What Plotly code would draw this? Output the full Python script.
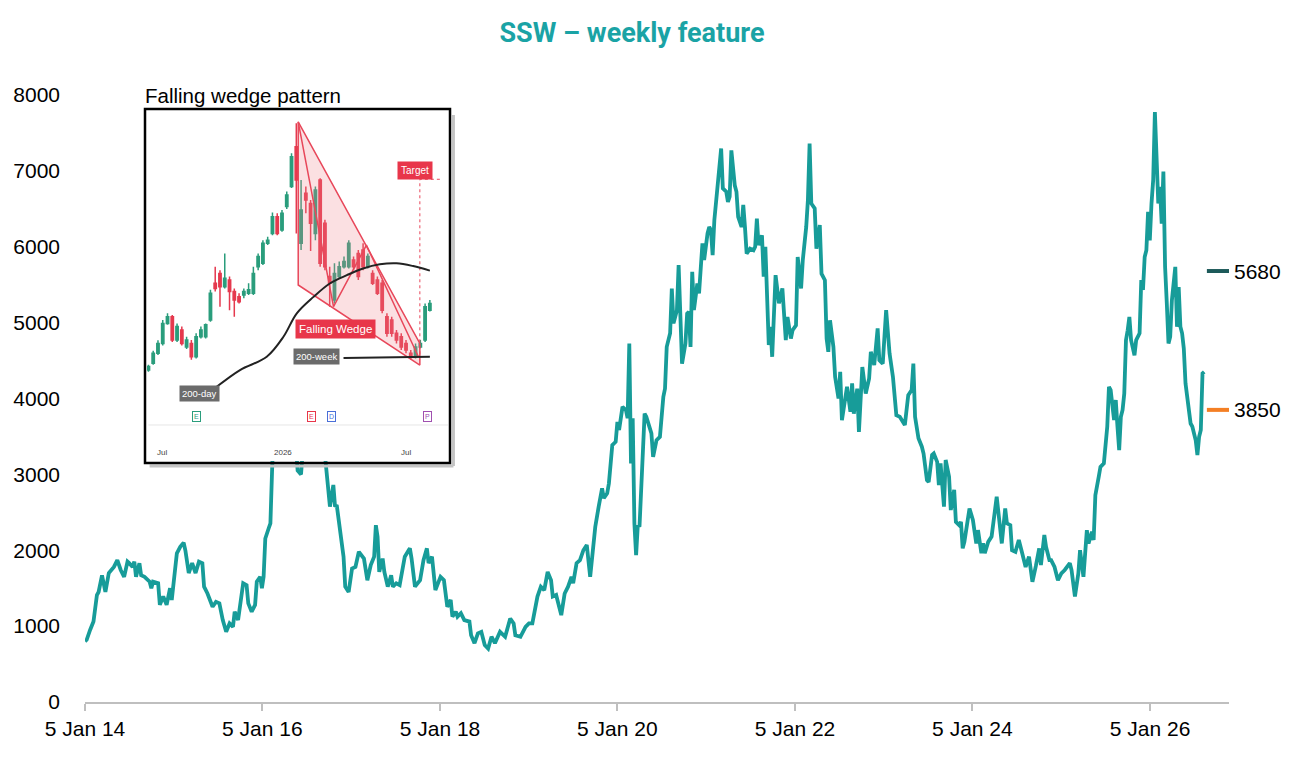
import pandas as pd
import plotly.graph_objects as go

# SSW weekly price: week offsets from 5 Jan 2014 and value
weeks = [0, 1, 3, 5, 7, 8, 10, 12, 14, 17, 19, 21, 23, 25, 26, 28, 29, 30, 32, 33,
         35, 38, 39, 40, 43, 44, 46, 48, 50, 51, 54, 56, 58, 59, 61, 63, 65, 67, 69, 70,
         72, 75, 77, 79, 81, 83, 85, 87, 88, 90, 93, 95, 96, 98, 100, 101, 103, 104, 105, 106,
         108, 109, 110, 112, 114, 116, 119, 121, 123, 125, 127, 129, 132, 135, 138, 140, 142, 144, 146, 147,
         148, 150, 152, 153, 155, 157, 159, 161, 164, 166, 168, 170, 171, 172, 173, 175, 176, 178, 180, 181,
         183, 185, 188, 191, 192, 194, 197, 199, 201, 202, 204, 206, 209, 211, 213, 215, 216, 218, 219, 221,
         223, 226, 227, 229, 231, 233, 235, 237, 239, 241, 244, 247, 250, 252, 253, 256, 259, 261, 263, 266,
         268, 270, 272, 274, 275, 277, 280, 282, 284, 286, 287, 289, 291, 293, 295, 297, 299, 300, 302, 304,
         305, 307, 308, 310, 312, 313, 314, 316, 318, 319, 320, 321, 322, 323, 324, 325, 326, 329, 330, 332,
         333, 334, 336, 338, 340, 341, 342, 344, 345, 346, 348, 349, 350, 351, 353, 354, 355, 356, 357, 358,
         360, 361, 363, 364, 366, 367, 368, 369, 370, 372, 373, 374, 375, 377, 378, 379, 380, 382, 383, 384,
         386, 387, 388, 389, 391, 393, 394, 395, 396, 398, 399, 400, 402, 403, 404, 406, 408, 410, 412, 413,
         415, 416, 418, 419, 421, 422, 424, 425, 426, 427, 429, 430, 432, 433, 435, 436, 437, 438, 440, 441,
         443, 444, 445, 447, 448, 450, 451, 452, 454, 455, 457, 459, 461, 462, 464, 466, 467, 469, 471, 473,
         475, 477, 479, 482, 484, 486, 487, 488, 490, 492, 493, 495, 496, 498, 499, 501, 502, 503, 505, 506,
         508, 509, 511, 512, 514, 515, 516, 517, 520, 522, 524, 525, 527, 528, 529, 531, 533, 536, 538, 539,
         541, 542, 544, 545, 547, 549, 551, 553, 555, 557, 559, 561, 562, 564, 565, 567, 568, 570, 572, 574,
         576, 579, 580, 582, 584, 585, 587, 589, 590, 592, 593, 594, 596, 597, 599, 601, 602, 603, 605, 606,
         607, 608, 609, 610, 611, 612, 613, 614, 615, 617, 618, 620, 621, 622, 623, 624, 625, 626, 627, 628,
         629, 630, 631, 632, 633, 634, 635, 636, 637, 638, 639, 641, 642, 643, 644, 645, 646, 647, 650, 651,
         653, 654, 655, 656, 657, 658]
ssw = [800, 820, 950, 1060, 1410, 1450, 1670, 1450, 1700, 1780, 1870, 1740, 1650, 1850, 1830, 1780, 1850, 1650, 1830, 1670,
       1650, 1585, 1500, 1585, 1565, 1280, 1390, 1280, 1500, 1345, 1960, 2045, 2100, 2000, 1700, 1830, 1700, 1850, 1830, 1520,
       1430, 1255, 1320, 1300, 1080, 925, 1035, 990, 1190, 1080, 1565, 1540, 1300, 1190, 1280, 1585, 1650, 1500, 1650, 2155,
       2290, 2355, 3060, 4300, 5400, 6300, 5600, 4600, 3700, 3050, 3000, 3600, 4400, 4900, 4200, 3500, 3050, 2575, 2860, 2575,
       2595, 2265, 1915, 1520, 1450, 1760, 1780, 1980, 1890, 1605, 1805, 1915, 2330, 2180, 1715, 1890, 1715, 1520, 1670, 1520,
       1565, 1540, 1915, 2025, 1890, 1520, 1605, 1870, 2025, 1830, 1915, 1475, 1650, 1605, 1255, 1345, 1125, 1190, 1125, 1170,
       1080, 1060, 880, 775, 905, 925, 750, 705, 860, 775, 925, 860, 1100, 1035, 880, 860, 990, 1035, 1035, 1390,
       1520, 1475, 1715, 1605, 1390, 1410, 1145, 1430, 1520, 1650, 1565, 1830, 1870, 2000, 2070, 1650, 2090, 2310, 2575, 2815,
       2685, 2750, 2880, 3385, 3430, 3690, 3585, 3890, 3850, 3740, 4725, 3145, 3740, 2355, 1935, 2330, 2310, 3800, 3760, 3585,
       3540, 3230, 3450, 3495, 4020, 4130, 4680, 4860, 5450, 4990, 5165, 5760, 5075, 4460, 4725, 5120, 5140, 4680, 5670, 5165,
       5515, 5385, 6045, 5825, 6175, 6260, 6220, 5890, 6350, 6835, 7050, 7295, 6770, 6725, 6590, 6660, 7270, 6810, 6725, 6395,
       6260, 6550, 6260, 5910, 5975, 5955, 6000, 6370, 6020, 6150, 5605, 6000, 4705, 4945, 4550, 5625, 5255, 5450, 4770, 5075,
       4790, 4900, 4965, 5865, 5450, 5825, 6260, 6615, 7360, 6570, 6505, 5975, 6285, 5645, 5560, 4790, 4615, 5030, 4680, 4285,
       4000, 4350, 3715, 4065, 4155, 3825, 4200, 3800, 4130, 3560, 4415, 4065, 4265, 4615, 4440, 4925, 4505, 4460, 5165, 4595,
       4285, 3780, 3760, 3650, 4045, 4110, 4460, 3760, 3475, 3365, 3275, 2925, 2900, 3255, 3275, 3165, 2860, 3145, 2575, 3190,
       2970, 2530, 2795, 2375, 2330, 2375, 2025, 2110, 2550, 2400, 2090, 2265, 1960, 2090, 1960, 2110, 2180, 2705, 2265, 2090,
       2550, 2355, 2330, 2000, 1980, 2135, 1960, 1780, 1915, 1585, 1790, 2025, 1805, 2200, 2045, 1870, 1870, 1780, 1605, 1695,
       1740, 1830, 1740, 1390, 1695, 2000, 1650, 2265, 2090, 2245, 2135, 2725, 2970, 3100, 3145, 3630, 4155, 4110, 3715, 3980,
       3630, 3320, 3760, 3850, 4065, 4770, 4900, 5075, 4770, 4570, 4770, 4860, 5560, 5430, 5865, 5955, 6460, 6085, 6570, 6880,
       7775, 7185, 6570, 6790, 6305, 6990, 5735, 5255, 4725, 4815, 5295, 5735, 4945, 5470, 4945, 4860, 4660, 4200, 3670, 3630,
       3450, 3255, 3495, 3585, 4330, 4350]

level_values = [5680, 3850]
level_labels = ['5680', '3850']
level_colors = ['#1d5a5a', '#f47f24']

# Inset: falling wedge candlestick sketch
c_open = [26.0, 27.9, 30.8, 33.6, 39.3, 41.2, 34.6, 37.4, 32.6, 33.6, 29.8, 35.5, 35.5, 40.3, 50.8, 53.6, 49.8, 51.7, 48.4, 46.9,
          47.4, 47.9, 47.9, 55.5, 56.5, 62.2, 65.0, 69.8, 66.0, 72.7, 78.4, 89.8, 62.2, 76.5, 73.6, 65.0, 80.3, 67.9, 52.7, 46.0,
          52.7, 55.5, 55.5, 57.4, 59.3, 60.3, 55.5, 53.6, 51.7, 50.8, 41.2, 40.3, 36.5, 35.5, 33.6, 30.8, 29.8, 32.6, 34.6, 43.1]
c_close = [27.0, 30.8, 33.6, 39.3, 41.2, 34.6, 38.4, 33.6, 34.6, 29.8, 35.5, 37.4, 38.9, 47.9, 49.3, 49.8, 52.2, 48.4, 46.0, 45.5,
           48.4, 48.9, 53.6, 58.4, 62.2, 63.1, 69.8, 65.0, 70.8, 76.0, 86.9, 80.3, 71.7, 74.6, 67.9, 77.4, 56.5, 55.5, 50.8, 53.6,
           55.5, 57.0, 62.2, 55.5, 52.7, 55.5, 58.4, 50.8, 47.9, 43.1, 36.5, 36.5, 34.6, 32.6, 31.7, 29.8, 32.6, 33.6, 44.1, 45.0]
c_high = [27.5, 31.5, 34.5, 40.3, 42.2, 41.7, 39.3, 38.4, 35.5, 34.6, 36.5, 38.4, 39.3, 48.9, 55.5, 54.5, 59.3, 52.7, 49.3, 47.9,
          49.3, 50.8, 55.5, 59.3, 63.1, 64.1, 71.0, 70.8, 71.7, 77.0, 87.9, 96.5, 80.3, 78.4, 74.6, 78.4, 80.8, 68.9, 55.5, 56.5,
          57.0, 58.4, 63.1, 58.4, 60.3, 62.2, 59.3, 54.5, 52.7, 51.7, 42.2, 41.2, 37.4, 36.5, 34.6, 31.7, 33.6, 34.6, 45.0, 46.0]
c_low = [25.5, 27.5, 30.3, 33.0, 38.9, 34.0, 34.0, 33.0, 32.0, 28.9, 29.3, 35.0, 35.0, 39.8, 48.4, 44.1, 49.3, 43.1, 41.2, 45.0,
         46.5, 47.4, 47.4, 54.5, 56.0, 61.7, 64.5, 64.5, 65.5, 72.0, 78.0, 65.0, 60.3, 70.8, 60.0, 63.1, 55.5, 54.5, 44.1, 45.0,
         52.2, 55.0, 55.0, 54.5, 51.7, 54.5, 55.0, 50.3, 47.4, 42.2, 35.5, 35.5, 33.6, 31.7, 30.8, 28.9, 29.3, 32.2, 34.0, 42.7]
ma_day_x = [14.3, 19.2, 24.8, 28.3, 31.1, 34.6, 38.1, 41.6, 45.0, 48.5, 52.0, 55.5, 59.0]
ma_day_y = [21.2, 26.0, 29.8, 35.5, 42.2, 46.9, 50.8, 53.1, 55.0, 56.2, 56.5, 55.7, 54.4]
ma_week_x = [40.9, 59.0]
ma_week_y = [29.4, 29.8]
wedge_x = [31.4, 56.9, 56.9, 31.4, 31.4]
wedge_y = [96.9, 33.6, 27.4, 50.3, 96.9]
zigzag_x = [31.4, 38.8, 45.7, 56.6]
zigzag_y = [96.9, 44.1, 61.7, 29.8]
target_x = [56.9, 56.9, 61.5]
target_y = [30.5, 80.5, 80.5]

start = pd.Timestamp('2014-01-05')
dates = [start + pd.Timedelta(days=7 * w) for w in weeks]
x_end = '2026-11-26'

fig = go.Figure()

fig.add_trace(go.Scatter(x=dates, y=ssw, mode='lines',
                         line=dict(color='#179c99', width=3.8)))

for val, col in zip(level_values, level_colors):
    fig.add_trace(go.Scatter(x=['2026-08-27', x_end], y=[val, val], mode='lines',
                             line=dict(color=col, width=4), cliponaxis=False))

# Inset chart
fig.add_trace(go.Scatter(x=wedge_x, y=wedge_y, xaxis='x2', yaxis='y2', mode='lines',
                         fill='toself', fillcolor='rgba(240,130,140,0.25)',
                         line=dict(color='#e8475a', width=1.5)))
fig.add_trace(go.Scatter(x=zigzag_x, y=zigzag_y, xaxis='x2', yaxis='y2', mode='lines',
                         line=dict(color='#e8475a', width=1.5)))
fig.add_trace(go.Scatter(x=target_x, y=target_y, xaxis='x2', yaxis='y2', mode='lines',
                         line=dict(color='#e8475a', width=1, dash='dot')))
fig.add_trace(go.Candlestick(x=list(range(len(c_open))), open=c_open, high=c_high,
                             low=c_low, close=c_close, xaxis='x2', yaxis='y2',
                             increasing=dict(line=dict(color='#2a9d7c', width=1.5), fillcolor='#2a9d7c'),
                             decreasing=dict(line=dict(color='#e5394e', width=1.5), fillcolor='#e5394e'),
                             whiskerwidth=0))
fig.add_trace(go.Scatter(x=ma_day_x, y=ma_day_y, xaxis='x2', yaxis='y2', mode='lines',
                         line=dict(color='#222222', width=2, shape='spline')))
fig.add_trace(go.Scatter(x=ma_week_x, y=ma_week_y, xaxis='x2', yaxis='y2', mode='lines',
                         line=dict(color='#222222', width=2)))
fig.add_trace(go.Scatter(x=[0, 62.8], y=[10.3, 10.3], xaxis='x2', yaxis='y2', mode='lines',
                         line=dict(color='#e6e6e6', width=1)))

tick_font = dict(family='Liberation Sans, Arial, sans-serif', size=21, color='#000000')

annotations = [
    dict(text='Falling wedge pattern', xref='paper', yref='paper', x=0.0507, y=1.0,
         xanchor='left', yanchor='middle', showarrow=False,
         font=dict(tick_font, size=20.5)),
]
for val, lab in zip(level_values, level_labels):
    annotations.append(dict(text=lab, xref='paper', yref='y', x=1.0, y=val, xshift=3,
                            xanchor='left', yanchor='middle', showarrow=False, font=tick_font))

small = dict(family='Liberation Sans, Arial, sans-serif', size=9, color='white')
inset_labels = [('Falling Wedge', 39.3, 37.6, '#e8364a', 11.5, 3),
                ('Target', 55.9, 83.1, '#e8364a', 10, 3),
                ('200-day', 10.7, 19.3, '#6b6b6b', 9.5, 2),
                ('200-week', 35.3, 29.8, '#6b6b6b', 9.5, 2)]
for txt, xx, yy, bg, sz, pad in inset_labels:
    annotations.append(dict(text=txt, xref='x2', yref='y2', x=xx, y=yy, showarrow=False,
                            bgcolor=bg, borderpad=pad, font=dict(small, size=sz)))
for txt, xx in [('Jul', 2.8), ('2026', 28.3), ('Jul', 54.1)]:
    annotations.append(dict(text=txt, xref='x2', yref='y2', x=xx, y=2.4, showarrow=False,
                            font=dict(family='Liberation Sans, Arial', size=8, color='#444444')))
for txt, xx, col in [('E', 10.0, '#2a9d7c'), ('E', 34.2, '#e8364a'), ('D', 38.4, '#4a6fd8'),
                     ('P', 58.6, '#a050b0')]:
    annotations.append(dict(text=txt, xref='x2', yref='y2', x=xx, y=12.7, showarrow=False,
                            bordercolor=col, borderwidth=1, borderpad=1,
                            font=dict(family='Liberation Sans, Arial', size=7, color=col)))

x0, x1, y0, y1 = 0.05245, 0.31906, 0.39374, 0.97694
shapes = [
    dict(type='line', xref='paper', yref='paper', x0=x1 + 0.003, x1=x1 + 0.003,
         y0=y0 - 0.005, y1=y1 - 0.01, line=dict(color='#c4c4c4', width=3)),
    dict(type='line', xref='paper', yref='paper', x0=x0 + 0.004, x1=x1 + 0.003,
         y0=y0 - 0.005, y1=y0 - 0.005, line=dict(color='#c4c4c4', width=3)),
    dict(type='rect', xref='paper', yref='paper', x0=x0, x1=x1, y0=y0, y1=y1,
         line=dict(color='#000000', width=2.5)),
]

# page has an 8px body margin, so the figure margins are offset by it
fig.update_layout(
    width=1300, height=780,
    margin=dict(l=77, r=79, t=87, b=86),
    paper_bgcolor='white', plot_bgcolor='white',
    showlegend=False,
    title=dict(text='<b>SSW – weekly feature</b>', x=0.48, xanchor='center',
               y=0.969, yanchor='middle', yref='container',
               font=dict(family='Roboto, sans-serif', size=27, color='#1aa3a5')),
    xaxis=dict(type='date', range=['2014-01-05', x_end], tick0='2014-01-05', dtick='M24',
               tickformat='%-d %b %y', showgrid=False, zeroline=False,
               showline=True, linecolor='#bfbfbf', linewidth=2,
               ticks='outside', ticklen=7, tickwidth=2, tickcolor='#bfbfbf',
               tickfont=tick_font, automargin=False),
    yaxis=dict(range=[0, 8000], dtick=1000, showgrid=False, zeroline=False,
               showline=False, ticks='', tickfont=tick_font, ticklabelstandoff=24,
               automargin=False),
    xaxis2=dict(domain=[0.0542, 0.3173], anchor='y2', range=[-0.3, 62.8],
                showgrid=False, zeroline=False, showline=False, showticklabels=False,
                rangeslider=dict(visible=False), automargin=False),
    yaxis2=dict(domain=[0.397, 0.9736], anchor='x2', range=[0, 100],
                showgrid=False, zeroline=False, showline=False, showticklabels=False,
                automargin=False),
    annotations=annotations,
    shapes=shapes,
)

fig.write_html('out.html')
